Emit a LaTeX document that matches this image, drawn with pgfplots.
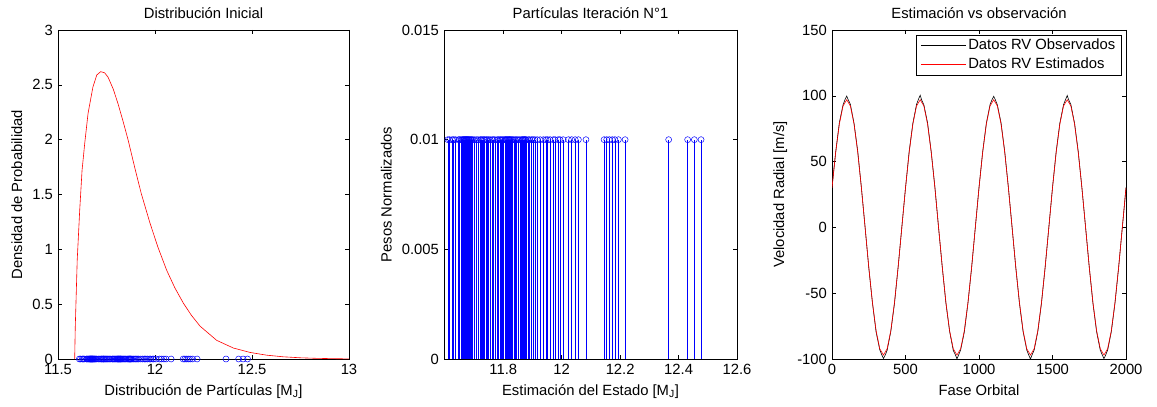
\documentclass[border=0pt]{standalone}
\usepackage{pgfplots}
\pgfplotsset{compat=1.18}
\usepackage{pgfplotstable}
\usepackage{fontspec}
\setmainfont{Liberation Sans}

\pgfplotstableread{
x w z
11.610 0.01 0
11.616 0.01 0
11.625 0.01 0
11.630 0.01 0
11.636 0.01 0
11.647 0.01 0
11.650 0.01 0
11.655 0.01 0
11.659 0.01 0
11.662 0.01 0
11.664 0.01 0
11.666 0.01 0
11.668 0.01 0
11.670 0.01 0
11.672 0.01 0
11.674 0.01 0
11.676 0.01 0
11.678 0.01 0
11.680 0.01 0
11.682 0.01 0
11.685 0.01 0
11.688 0.01 0
11.691 0.01 0
11.694 0.01 0
11.700 0.01 0
11.707 0.01 0
11.713 0.01 0
11.721 0.01 0
11.724 0.01 0
11.728 0.01 0
11.733 0.01 0
11.736 0.01 0
11.741 0.01 0
11.745 0.01 0
11.750 0.01 0
11.755 0.01 0
11.762 0.01 0
11.766 0.01 0
11.771 0.01 0
11.779 0.01 0
11.783 0.01 0
11.788 0.01 0
11.792 0.01 0
11.796 0.01 0
11.800 0.01 0
11.805 0.01 0
11.807 0.01 0
11.810 0.01 0
11.812 0.01 0
11.815 0.01 0
11.818 0.01 0
11.820 0.01 0
11.822 0.01 0
11.825 0.01 0
11.828 0.01 0
11.832 0.01 0
11.836 0.01 0
11.841 0.01 0
11.846 0.01 0
11.851 0.01 0
11.857 0.01 0
11.863 0.01 0
11.866 0.01 0
11.868 0.01 0
11.871 0.01 0
11.873 0.01 0
11.876 0.01 0
11.878 0.01 0
11.885 0.01 0
11.890 0.01 0
11.897 0.01 0
11.902 0.01 0
11.908 0.01 0
11.916 0.01 0
11.926 0.01 0
11.937 0.01 0
11.946 0.01 0
11.952 0.01 0
11.960 0.01 0
11.971 0.01 0
11.977 0.01 0
11.988 0.01 0
11.994 0.01 0
12.005 0.01 0
12.023 0.01 0
12.034 0.01 0
12.046 0.01 0
12.057 0.01 0
12.083 0.01 0
12.145 0.01 0
12.154 0.01 0
12.163 0.01 0
12.173 0.01 0
12.182 0.01 0
12.194 0.01 0
12.217 0.01 0
12.366 0.01 0
12.431 0.01 0
12.454 0.01 0
12.477 0.01 0
}\particles

\pgfplotsset{
  every axis/.append style={
    scale only axis,
    height=329pt,
    anchor=south west,
    tick align=inside,
    major tick length=4pt,
    /pgf/number format/assume math mode=true,
    /pgf/number format/1000 sep={},
    axis line style={black, line width=0.5pt},
    every tick/.style={black, line width=0.5pt},
  },
}

\begin{document}
\fontsize{14.8}{17.5}\selectfont
\begin{tikzpicture}
\useasboundingbox (0,0) rectangle (1157pt,407pt);

% Panel 1
\begin{axis}[
  at={(58pt,48pt)}, width=291pt,
  xmin=11.5, xmax=13, ymin=0, ymax=3,
  xtick={11.5,12,12.5,13}, xticklabels={11.5,12,12.5,13},
  ytick={0,0.5,1,1.5,2,2.5,3}, yticklabels={0,0.5,1,1.5,2,2.5,3},
  title={Distribución Inicial},
  xlabel={Distribución de Partículas [M\textsubscript{J}]},
  ylabel={Densidad de Probabilidad},
  clip=false,
]
\addplot[red, line width=0.6pt] coordinates {
(11.586,0) (11.589,0.29) (11.599,0.90) (11.612,1.36) (11.624,1.72) (11.638,1.97)
(11.655,2.24) (11.680,2.48) (11.700,2.59) (11.720,2.62) (11.740,2.61) (11.758,2.57)
(11.785,2.46) (11.809,2.33) (11.835,2.17) (11.861,2.00) (11.895,1.75) (11.929,1.51)
(11.974,1.24) (12.015,1.02) (12.060,0.81) (12.102,0.65) (12.146,0.51) (12.187,0.40)
(12.232,0.30) (12.318,0.17) (12.404,0.10) (12.490,0.06) (12.575,0.035) (12.661,0.02)
(12.750,0.011) (12.834,0.006) (12.920,0.003) (13.0,0.001)
};
\addplot[blue, only marks, mark=o, mark size=3pt, line width=0.5pt] table[x=x,y=z]{\particles};
\end{axis}

% Panel 2
\begin{axis}[
  at={(444pt,48pt)}, width=293pt,
  xmin=11.597, xmax=12.6, ymin=0, ymax=0.015,
  xtick={11.8,12,12.2,12.4,12.6}, xticklabels={11.8,12,12.2,12.4,12.6},
  ytick={0,0.005,0.01,0.015}, yticklabels={0,0.005,0.01,0.015},
  scaled y ticks=false, scaled x ticks=false,
  title={Partículas Iteración N°1},
  xlabel={Estimación del Estado [M\textsubscript{J}]},
  ylabel={Pesos Normalizados},
]
\addplot[blue, ycomb, mark=o, mark size=3pt, line width=0.5pt] table[x=x,y=w]{\particles};
\end{axis}

% Panel 3
\begin{axis}[
  at={(832pt,48pt)}, width=294pt,
  xmin=0, xmax=2000, ymin=-100, ymax=150,
  xtick={0,500,1000,1500,2000}, xticklabels={0,500,1000,1500,2000},
  ytick={-100,-50,0,50,100,150}, yticklabels={-100,-50,0,50,100,150},
  title={Estimación vs observación},
  xlabel={Fase Orbital},
  ylabel={Velocidad Radial [m/s]},
  legend style={at={(1,1)}, anchor=north east, xshift=-4.5pt, yshift=-5pt,
    draw=black, line width=0.5pt, inner xsep=4pt, inner ysep=2pt, row sep=2pt},
  legend cell align=left,
]
\addplot[black, line width=0.6pt,
  legend image code/.code={\draw[draw=black, line width=0.6pt] (0pt,0pt) -- (45pt,0pt);}] coordinates {
(0,30.5) (25,57.2) (50,79.6) (75,93.0) (90,97.6) (100,99.8) (110,97.1) (125,93.5) (150,79.0) (175,57.9) (200,30.1) (225,0.3) (250,-30.5) (275,-57.3) (300,-79.5) (325,-93.0) (340,-97.2) (350,-99.6) (360,-97.5) (375,-93.4) (400,-79.1) (425,-57.8) (450,-30.0) (475,0.2)
(500,30.0) (525,57.8) (550,79.1) (575,93.4) (590,97.9) (600,100.4) (610,96.8) (625,93.1) (650,79.5) (675,57.4) (700,30.6) (725,-0.4) (750,-30.1) (775,-57.7) (800,-79.0) (825,-93.5) (840,-97.0) (850,-99.9) (860,-97.3) (875,-93.1) (900,-79.6) (925,-57.3) (950,-30.4) (975,0.1)
(1000,30.4) (1025,57.5) (1050,79.2) (1075,93.3) (1090,97.4) (1100,99.6) (1110,97.3) (1125,93.0) (1150,79.4) (1175,57.6) (1200,30.2) (1225,0.2) (1250,-30.3) (1275,-57.5) (1300,-79.3) (1325,-93.2) (1340,-97.4) (1350,-100.1) (1360,-97.1) (1375,-93.3) (1400,-79.2) (1425,-57.6) (1450,-30.3) (1475,-0.1)
(1500,30.3) (1525,57.6) (1550,79.3) (1575,93.2) (1590,97.5) (1600,100.2) (1610,97.0) (1625,93.3) (1650,79.2) (1675,57.7) (1700,30.2) (1725,0.1) (1750,-30.2) (1775,-57.6) (1800,-79.3) (1825,-93.3) (1840,-97.3) (1850,-99.7) (1860,-97.4) (1875,-93.2) (1900,-79.3) (1925,-57.6) (1950,-30.3) (1975,0.0) (2000,30.3)
};
\addlegendentry{Datos RV Observados}
\addplot[red, line width=0.6pt,
  legend image code/.code={\draw[draw=red, line width=0.6pt] (0pt,0pt) -- (45pt,0pt);}] coordinates {
(0,29.97) (25,57.01) (50,78.47) (75,92.25) (100,97) (125,92.25) (150,78.47) (175,57.01) (200,29.97) (225,0) (250,-29.97) (275,-57.01) (300,-78.47) (325,-92.25) (350,-97) (375,-92.25) (400,-78.47) (425,-57.01) (450,-29.97) (475,0)
(500,29.97) (525,57.01) (550,78.47) (575,92.25) (600,97) (625,92.25) (650,78.47) (675,57.01) (700,29.97) (725,0) (750,-29.97) (775,-57.01) (800,-78.47) (825,-92.25) (850,-97) (875,-92.25) (900,-78.47) (925,-57.01) (950,-29.97) (975,0)
(1000,29.97) (1025,57.01) (1050,78.47) (1075,92.25) (1100,97) (1125,92.25) (1150,78.47) (1175,57.01) (1200,29.97) (1225,0) (1250,-29.97) (1275,-57.01) (1300,-78.47) (1325,-92.25) (1350,-97) (1375,-92.25) (1400,-78.47) (1425,-57.01) (1450,-29.97) (1475,0)
(1500,29.97) (1525,57.01) (1550,78.47) (1575,92.25) (1600,97) (1625,92.25) (1650,78.47) (1675,57.01) (1700,29.97) (1725,0) (1750,-29.97) (1775,-57.01) (1800,-78.47) (1825,-92.25) (1850,-97) (1875,-92.25) (1900,-78.47) (1925,-57.01) (1950,-29.97) (1975,0) (2000,29.97)
};
\addlegendentry{Datos RV Estimados}
\end{axis}
\end{tikzpicture}
\end{document}
